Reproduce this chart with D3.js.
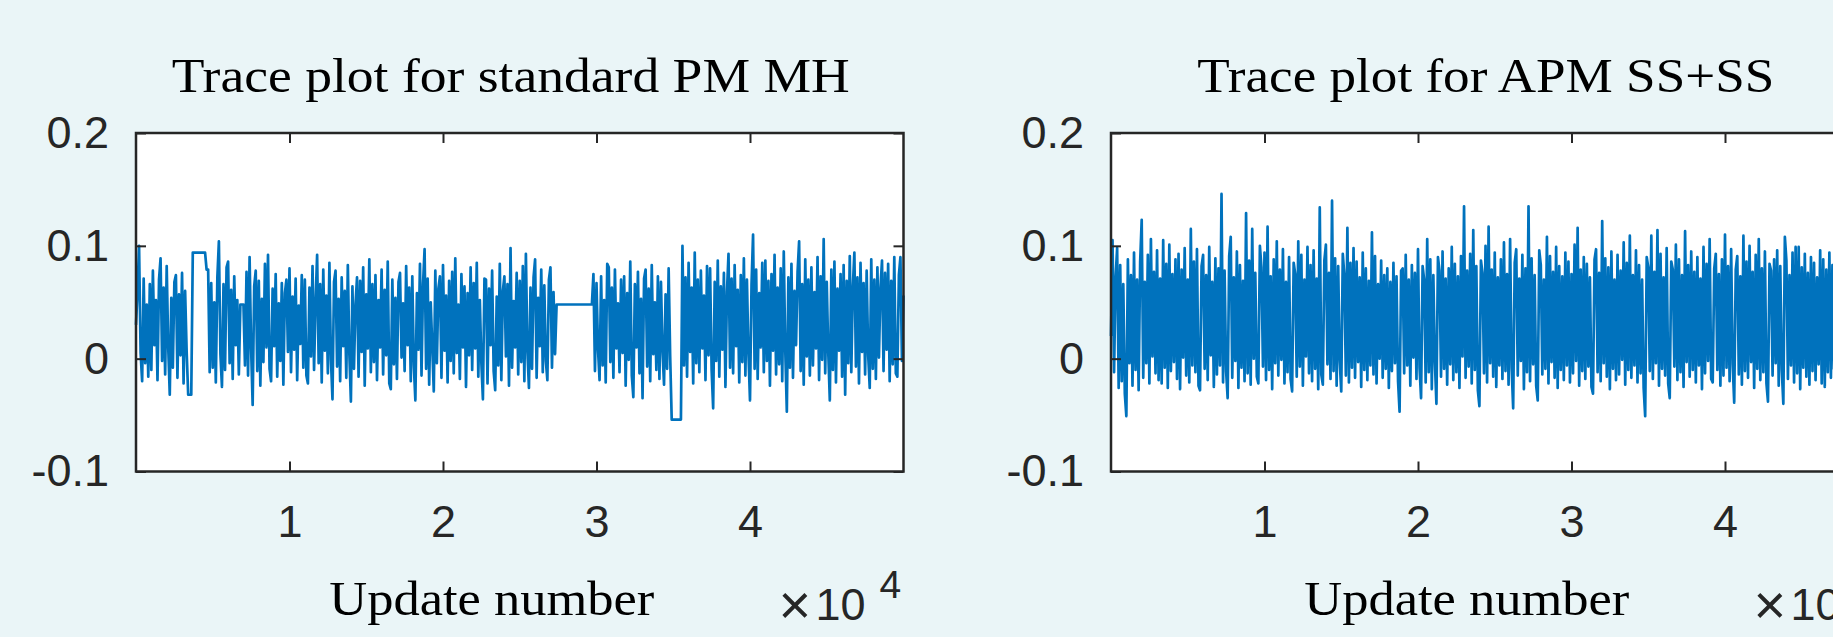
<!DOCTYPE html>
<html>
<head>
<meta charset="utf-8">
<script src="https://cdn.jsdelivr.net/npm/d3@7"></script>
<style>
  body { margin: 0; background: #EAF5F7; }
  svg { display: block; }
</style>
</head>
<body>
<div id="chart"></div>
<script>
const WIDTH = 1833;
const HEIGHT = 637;
const LINE_COLOR = "#0072BD";
const AXIS_COLOR = "#262626";

// One trace value every 100 updates (0 .. 50000)
const UPDATE_STEP = 100;

const titles = ["Trace plot for standard PM MH", "Trace plot for APM SS+SS"];
const titleWidths = [678, 577];
const xLabel = "Update number";
const xTickValues = [10000, 20000, 30000, 40000];
const yTickValues = [-0.1, 0, 0.1, 0.2];

const standardPmValues = [
    0.030, 0.060, 0.100, 0.005, -0.020, 0.071, -0.004, 0.048, -0.016, 0.066,
    -0.010, 0.078, 0.012, 0.052, -0.019, 0.070, 0.089, -0.002, 0.063, -0.014,
    0.082, 0.010, -0.032, 0.054, -0.008, 0.068, 0.074, -0.017, 0.057, 0.003,
    0.076, -0.022, 0.060, 0.006, -0.032, -0.032, -0.032, 0.094, 0.094, 0.094,
    0.094, 0.094, 0.094, 0.094, 0.094, 0.094, 0.079, 0.079, -0.012, 0.067,
    -0.008, 0.050, -0.021, 0.072, 0.104, 0.004, -0.025, 0.066, -0.010, 0.081,
    0.086, -0.004, 0.061, -0.018, 0.073, 0.012, 0.052, -0.014, 0.048, 0.048,
    0.048, -0.006, 0.077, -0.015, 0.090, 0.009, -0.041, 0.064, 0.078, -0.011,
    0.069, -0.024, 0.053, -0.003, 0.084, 0.010, 0.092, -0.009, -0.020, 0.062,
    0.011, 0.075, -0.016, 0.049, -0.002, 0.067, -0.023, 0.058, 0.070, 0.006,
    0.080, -0.012, 0.055, 0.008, 0.071, -0.019, 0.047, 0.013, 0.074, -0.008,
    0.070, -0.015, -0.022, 0.063, 0.002, 0.082, -0.010, 0.051, 0.092, -0.004,
    0.066, -0.021, 0.079, 0.007, 0.056, -0.013, 0.085, -0.001, -0.036, 0.068,
    0.078, -0.007, 0.053, -0.020, 0.072, 0.011, 0.060, -0.017, 0.083, 0.004,
    -0.038, 0.064, -0.009, 0.048, 0.072, -0.016, 0.069, 0.006, 0.081, -0.024,
    0.057, 0.009, 0.088, -0.012, 0.066, -0.003, 0.074, -0.019, 0.052, 0.010,
    0.079, -0.014, 0.061, 0.003, 0.086, -0.022, -0.027, 0.070, -0.005, 0.054,
    -0.018, 0.068, 0.076, 0.001, 0.049, -0.011, 0.082, 0.012, 0.063, -0.020,
    0.073, -0.006, -0.037, 0.058, 0.008, 0.084, -0.015, 0.066, 0.097, -0.009,
    0.071, -0.023, 0.050, 0.011, -0.029, 0.078, -0.004, 0.062, 0.073, -0.017,
    0.083, 0.007, 0.056, -0.021, 0.069, -0.002, 0.077, -0.013, 0.089, 0.005,
    0.048, -0.018, 0.075, 0.010, 0.064, -0.025, 0.058, 0.003, 0.081, -0.010,
    0.067, 0.009, 0.085, -0.016, 0.052, -0.004, -0.036, 0.071, 0.070, -0.022,
    0.062, 0.012, 0.078, -0.011, -0.028, 0.055, -0.006, 0.084, -0.019, 0.060,
    0.073, 0.002, 0.066, -0.024, 0.098, -0.008, 0.051, 0.010, 0.076, -0.014,
    0.069, -0.003, 0.082, -0.020, 0.093, 0.006, -0.026, 0.063, -0.009, 0.072,
    0.088, -0.017, 0.054, 0.011, 0.079, -0.012, 0.065, -0.002, -0.019, 0.070,
    0.081, -0.008, 0.059, 0.004, 0.048, 0.048, 0.048, 0.048, 0.048, 0.048,
    0.048, 0.048, 0.048, 0.048, 0.048, 0.048, 0.048, 0.048, 0.048, 0.048,
    0.048, 0.048, 0.048, 0.048, 0.048, 0.048, 0.048, 0.048, 0.075, -0.011,
    0.067, 0.008, -0.019, 0.073, -0.006, 0.052, -0.021, 0.084, 0.081, -0.003,
    0.063, -0.017, 0.079, 0.009, 0.049, -0.012, 0.070, 0.005, 0.073, -0.024,
    0.058, -0.001, 0.086, -0.015, -0.034, 0.066, 0.010, 0.077, -0.013, 0.053,
    -0.035, 0.071, 0.079, -0.007, 0.062, -0.020, 0.083, 0.004, 0.050, -0.010,
    0.073, -0.018, 0.068, 0.007, -0.023, 0.057, -0.009, 0.080, 0.002, -0.054,
    -0.054, -0.054, -0.054, -0.054, -0.054, -0.054, 0.100, -0.006, 0.072, -0.016,
    0.085, 0.006, 0.063, -0.022, 0.094, -0.004, 0.070, -0.012, 0.078, 0.009,
    0.056, -0.019, 0.082, 0.003, 0.080, -0.010, -0.044, 0.068, -0.002, 0.087,
    -0.016, 0.064, 0.008, 0.076, -0.025, 0.059, 0.093, -0.008, 0.071, -0.013,
    0.083, 0.011, 0.061, -0.021, 0.074, -0.003, 0.089, -0.015, 0.070, 0.004,
    -0.037, 0.066, 0.110, -0.009, 0.079, -0.018, 0.058, 0.010, 0.085, -0.012,
    0.087, -0.002, 0.069, -0.024, 0.075, 0.007, 0.092, -0.014, 0.063, -0.005,
    0.080, -0.020, 0.095, 0.006, -0.047, 0.072, -0.008, 0.084, -0.017, 0.060,
    0.012, 0.077, 0.104, -0.011, 0.066, -0.023, 0.088, 0.002, 0.070, -0.015,
    0.081, -0.006, 0.059, 0.009, 0.090, -0.019, 0.073, -0.001, 0.106, -0.013,
    0.068, 0.005, -0.037, 0.079, -0.010, 0.086, -0.021, 0.062, 0.007, 0.075,
    -0.016, 0.083, -0.032, 0.069, -0.004, 0.091, -0.012, 0.064, 0.094, -0.007,
    0.072, -0.022, 0.085, 0.006, 0.067, -0.014, 0.078, 0.003, -0.026, 0.088,
    -0.009, 0.070, -0.018, 0.081, 0.001, 0.063, 0.087, -0.011, 0.076, 0.008,
    0.084, -0.020, 0.069, -0.005, 0.090, -0.013, -0.016, 0.074, 0.090, -0.002,
    0.056
];

const apmValues = [
    0.020, 0.105, -0.012, 0.072, 0.098, -0.026, 0.083, -0.020, 0.066, -0.031,
    -0.051, 0.088, -0.004, 0.074, -0.024, 0.094, -0.010, 0.070, -0.028, 0.086,
    0.123, -0.017, 0.068, -0.004, 0.092, -0.022, 0.106, 0.002, 0.077, -0.013,
    0.096, -0.019, 0.071, -0.022, 0.105, -0.008, 0.084, -0.026, 0.101, -0.011,
    0.075, -0.003, 0.088, -0.018, 0.093, -0.027, 0.079, 0.001, 0.098, -0.015,
    0.070, -0.021, 0.115, -0.006, 0.086, -0.012, 0.097, -0.024, -0.028, 0.082,
    0.092, -0.009, 0.074, -0.019, 0.099, 0.003, 0.068, -0.025, 0.089, -0.014,
    0.080, -0.006, 0.146, -0.021, 0.078, -0.011, -0.035, 0.091, 0.108, -0.017,
    0.072, -0.002, 0.095, -0.026, 0.083, -0.008, 0.069, -0.020, 0.129, -0.013,
    0.087, -0.023, 0.115, 0.000, 0.076, -0.016, -0.022, 0.100, 0.081, -0.007,
    0.094, -0.019, 0.117, -0.010, 0.073, -0.027, 0.088, -0.004, 0.104, -0.015,
    0.079, -0.001, 0.097, -0.022, 0.068, -0.012, 0.090, -0.018, -0.029, 0.085,
    0.075, -0.016, 0.104, -0.007, 0.092, -0.024, 0.070, 0.002, 0.099, -0.013,
    0.083, -0.020, 0.096, -0.009, 0.071, -0.027, 0.134, -0.014, -0.023, 0.087,
    0.101, -0.005, 0.076, -0.018, 0.140, -0.011, 0.089, -0.024, 0.082, -0.002,
    -0.029, 0.093, 0.074, -0.015, 0.116, -0.021, 0.085, -0.008, 0.098, -0.017,
    0.086, -0.003, 0.072, -0.025, 0.094, -0.010, 0.080, -0.019, 0.069, -0.006,
    0.112, -0.014, 0.091, -0.022, 0.066, 0.000, 0.087, -0.017, 0.074, -0.009,
    0.080, -0.026, 0.068, -0.011, 0.085, -0.004, 0.073, -0.020, -0.047, 0.078,
    0.080, -0.013, 0.092, -0.006, 0.070, -0.024, 0.083, 0.001, 0.076, -0.018,
    0.097, -0.008, -0.035, 0.082, 0.070, -0.021, 0.106, -0.012, 0.088, -0.027,
    0.074, -0.003, -0.040, 0.090, 0.078, -0.016, 0.095, -0.009, 0.071, -0.023,
    0.080, -0.005, 0.099, -0.019, 0.084, -0.012, 0.073, -0.026, 0.091, 0.002,
    0.135, -0.017, 0.078, -0.007, 0.093, -0.022, 0.114, -0.010, 0.082, -0.028,
    -0.042, 0.087, 0.076, -0.013, 0.100, -0.021, 0.117, -0.004, 0.079, -0.016,
    0.094, -0.025, 0.072, -0.006, 0.088, -0.018, 0.103, -0.011, 0.075, -0.023,
    0.106, -0.008, -0.044, 0.085, 0.097, -0.015, 0.071, -0.002, 0.092, -0.027,
    0.080, -0.012, 0.135, -0.020, 0.089, -0.005, 0.074, -0.024, -0.037, 0.096,
    0.083, -0.014, 0.070, -0.009, 0.108, -0.022, 0.091, -0.003, 0.077, -0.017,
    0.099, -0.026, 0.082, -0.010, 0.073, -0.019, 0.094, -0.006, 0.086, -0.021,
    0.075, -0.013, 0.101, -0.002, 0.116, -0.024, 0.079, -0.011, 0.090, -0.018,
    0.084, -0.007, 0.072, -0.025, -0.031, 0.088, 0.097, -0.012, 0.076, -0.020,
    0.122, -0.004, 0.089, -0.016, 0.081, -0.027, 0.095, -0.009, 0.070, -0.019,
    0.092, -0.014, 0.078, -0.001, 0.103, -0.023, 0.085, -0.010, 0.109, -0.017,
    0.074, -0.006, 0.096, -0.021, 0.083, -0.013, 0.070, -0.026, -0.051, 0.090,
    0.081, -0.011, 0.109, -0.018, 0.077, -0.004, 0.114, -0.024, 0.093, -0.009,
    0.072, -0.015, 0.098, -0.022, -0.035, 0.086, 0.079, -0.007, 0.101, -0.019,
    0.088, -0.012, 0.074, -0.025, 0.113, -0.003, 0.083, -0.016, 0.095, -0.010,
    0.077, -0.021, 0.090, -0.006, 0.071, -0.027, 0.099, -0.013, 0.084, -0.002,
    0.106, -0.018, -0.021, 0.080, 0.093, -0.010, 0.075, -0.024, 0.088, -0.015,
    0.110, -0.008, 0.082, -0.020, 0.097, -0.005, -0.039, 0.079, 0.091, -0.014,
    0.073, -0.023, 0.109, -0.011, 0.086, -0.017, 0.100, -0.003, 0.077, -0.026,
    0.092, -0.009, 0.106, -0.019, 0.080, -0.012, 0.095, -0.022, -0.038, 0.084,
    0.078, -0.015, 0.088, -0.004, 0.096, -0.024, 0.082, -0.010, -0.040, 0.108,
    0.087, -0.018, 0.074, -0.006, 0.094, -0.021, 0.099, -0.013, 0.099, -0.027,
    0.081, -0.008, 0.093, -0.016, 0.076, -0.023, 0.090, -0.011, 0.085, -0.019,
    0.072, -0.005, 0.096, -0.022, 0.088, -0.025, 0.079, -0.012, 0.094, -0.017,
    0.083, -0.009, 0.075, -0.020, 0.097, -0.014, 0.086, -0.026, 0.078, -0.007,
    0.091, -0.018, 0.073, -0.011, 0.089, -0.023, 0.080, -0.004, 0.095, -0.015,
    0.077, -0.021, 0.088, -0.010, 0.082, -0.016, 0.093, -0.025, 0.076, -0.012,
    0.030
];

const PLOT_TOP = 133;
const PLOT_BOTTOM = 471.5;
const PLOT_WIDTH = 767.5;
const PLOT_LEFTS = [136, 1111];

const svg = d3.select("#chart")
    .append("svg")
    .attr("width", WIDTH)
    .attr("height", HEIGHT);

drawPanel(PLOT_LEFTS[0], titles[0], titleWidths[0], standardPmValues);
drawPanel(PLOT_LEFTS[1], titles[1], titleWidths[1], apmValues);

function drawPanel(left, title, titleWidth, values) {

    const x = d3.scaleLinear().domain([0, 50000]).range([left, left + PLOT_WIDTH]);
    const y = d3.scaleLinear().domain([-0.1, 0.2]).range([PLOT_BOTTOM, PLOT_TOP]);

    const g = svg.append("g");

    g.append("rect")
        .attr("x", left)
        .attr("y", PLOT_TOP)
        .attr("width", PLOT_WIDTH)
        .attr("height", PLOT_BOTTOM - PLOT_TOP)
        .attr("fill", "#ffffff");

    const line = d3.line()
        .x(function (d, i) { return x(i * UPDATE_STEP); })
        .y(function (d) { return y(d); });

    g.append("path")
        .datum(values)
        .attr("d", line)
        .attr("fill", "none")
        .attr("stroke", LINE_COLOR)
        .attr("stroke-width", 2.7)
        .attr("stroke-linejoin", "round");

    // inward ticks on all four sides, labels only bottom and left
    const bottomAxis = g.append("g")
        .attr("transform", "translate(0," + PLOT_BOTTOM + ")")
        .call(d3.axisBottom(x).tickValues(xTickValues).tickSizeInner(-10).tickSizeOuter(0)
            .tickPadding(34).tickFormat(function (d) { return d / 10000; }));

    const topAxis = g.append("g")
        .attr("transform", "translate(0," + PLOT_TOP + ")")
        .call(d3.axisTop(x).tickValues(xTickValues).tickSizeInner(-10).tickSizeOuter(0).tickFormat(""));

    const leftAxis = g.append("g")
        .attr("transform", "translate(" + left + ",0)")
        .call(d3.axisLeft(y).tickValues(yTickValues).tickSizeInner(-10).tickSizeOuter(0)
            .tickPadding(27).tickFormat(function (d) { return d === 0 ? "0" : String(d); }));

    const rightAxis = g.append("g")
        .attr("transform", "translate(" + (left + PLOT_WIDTH) + ",0)")
        .call(d3.axisRight(y).tickValues(yTickValues).tickSizeInner(-10).tickSizeOuter(0).tickFormat(""));

    [bottomAxis, topAxis, leftAxis, rightAxis].forEach(function (a) {
        a.select(".domain").remove();
        a.selectAll(".tick line").attr("stroke", AXIS_COLOR).attr("stroke-width", 2);
        a.selectAll(".tick text")
            .attr("fill", AXIS_COLOR)
            .style("font-family", "'Liberation Sans', Arial, sans-serif")
            .style("font-size", "45px");
    });

    g.append("rect")
        .attr("x", left)
        .attr("y", PLOT_TOP)
        .attr("width", PLOT_WIDTH)
        .attr("height", PLOT_BOTTOM - PLOT_TOP)
        .attr("fill", "none")
        .attr("stroke", AXIS_COLOR)
        .attr("stroke-width", 2.5);

    const serif = "'Liberation Serif', 'Times New Roman', serif";

    g.append("text")
        .attr("x", left + PLOT_WIDTH / 2 - 9)
        .attr("y", 92)
        .attr("text-anchor", "middle")
        .attr("textLength", titleWidth)
        .attr("lengthAdjust", "spacingAndGlyphs")
        .style("font-family", serif)
        .style("font-size", "48px")
        .text(title);

    g.append("text")
        .attr("x", left + PLOT_WIDTH / 2 - 28)
        .attr("y", 615)
        .attr("text-anchor", "middle")
        .attr("textLength", 325)
        .attr("lengthAdjust", "spacingAndGlyphs")
        .style("font-family", serif)
        .style("font-size", "48px")
        .text(xLabel);

    // x10^4 exponent next to the x axis
    const right = left + PLOT_WIDTH;
    const sans = "'Liberation Sans', Arial, sans-serif";
    g.append("text").attr("x", right - 125).attr("y", 624).attr("fill", AXIS_COLOR)
        .style("font-family", sans).style("font-size", "56px").text("\u00d7");
    g.append("text").attr("x", right - 88).attr("y", 620).attr("fill", AXIS_COLOR)
        .style("font-family", sans).style("font-size", "45px").text("10");
    g.append("text").attr("x", right - 24).attr("y", 598).attr("fill", AXIS_COLOR)
        .style("font-family", sans).style("font-size", "39px").text("4");
}
</script>
</body>
</html>
